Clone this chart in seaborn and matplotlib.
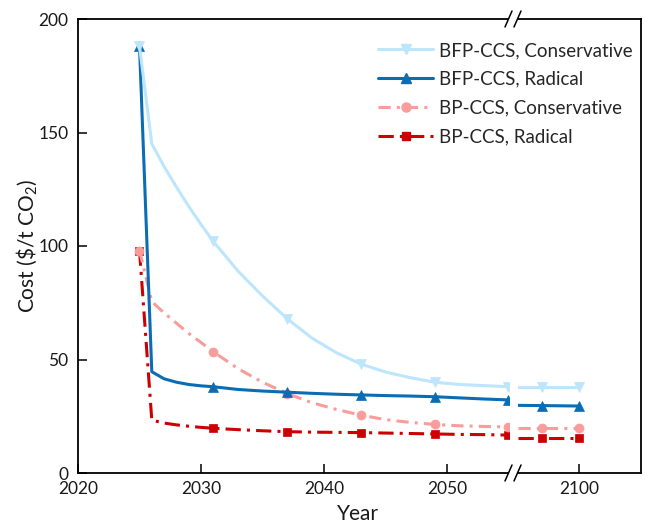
import numpy as np
import pandas as pd
import matplotlib
matplotlib.use("Agg")
import matplotlib.pyplot as plt
from matplotlib.lines import Line2D
import seaborn as sns

# ---------------- data ----------------
years = [2025, 2026, 2027, 2028, 2029, 2030, 2031, 2033, 2035, 2037, 2039,
         2041, 2043, 2045, 2047, 2049, 2051, 2053, 2055, 2095, 2097, 2100]
bfp_conservative = [188, 145, 135, 126, 117.5, 109.5, 102, 89, 78, 68, 59.5,
                    53, 48, 44.5, 42, 40, 39, 38.5, 38, 38, 38, 38]
bfp_radical = [188, 44.6, 41.5, 40, 39, 38.4, 38, 36.8, 36.1, 35.6, 35.1,
               34.7, 34.4, 34.1, 33.9, 33.6, 33.1, 32.6, 32.2, 29.8, 29.7, 29.5]
bp_conservative = [98, 75.5, 70.5, 66, 61.5, 57.5, 53.4, 46, 40, 35, 31,
                   28, 25.5, 23.5, 22.3, 21.4, 20.8, 20.5, 20.3, 19.7, 19.7, 19.7]
bp_radical = [98, 23.3, 22.0, 21.2, 20.6, 20.1, 19.7, 19.1, 18.6, 18.2, 18.0,
              17.9, 17.8, 17.6, 17.4, 17.2, 17.0, 16.9, 16.7, 15.6, 15.6, 15.6]
marker_years = [2025, 2031, 2037, 2043, 2049, 2055, 2097, 2100]
series_names = ["BFP-CCS, Conservative", "BFP-CCS, Radical",
                "BP-CCS, Conservative", "BP-CCS, Radical"]
left_ticks = [2020, 2030, 2040, 2050]
right_ticks = [2100]
y_ticks = [0, 50, 100, 150, 200]

# ---------------- styling ----------------
colors = ["#BDE5FC", "#0A6DB3", "#F99C9C", "#CC0000"]
markers = ["v", "^", "o", "s"]
msizes = [7, 7, 6.5, 5.5]
lstyles = ["-", "-", (0, (4, 2, 1, 2)), (0, (5, 2, 1, 2))]
zorders = [5, 4, 3, 2]
LW = 2.2

sns.set_theme(style="ticks")
plt.rcParams["font.family"] = ["Lato", "DejaVu Sans"]
plt.rcParams["mathtext.fontset"] = "custom"
plt.rcParams["mathtext.rm"] = "Lato"
plt.rcParams["mathtext.it"] = "Lato:italic"

df = pd.DataFrame({
    "year": years * 4,
    "cost": bfp_conservative + bfp_radical + bp_conservative + bp_radical,
    "series": sum([[n] * len(years) for n in series_names], []),
})

W, H = 649, 525
fig = plt.figure(figsize=(W / 100, H / 100), dpi=100)
fig.patch.set_facecolor("white")

x_left_px, x_break1, x_break2, x_right_px = 78, 508.5, 517.5, 641
y_top_px, y_bot_px = 19, 473
b = 1 - y_bot_px / H
h = (y_bot_px - y_top_px) / H
axL = fig.add_axes([x_left_px / W, b, (x_break1 - x_left_px) / W, h])
axR = fig.add_axes([x_break2 / W, b, (x_right_px - x_break2) / W, h])

for i, name in enumerate(series_names):
    sub = df[df["series"] == name]
    for ax, cond in ((axL, sub["year"] <= 2055), (axR, sub["year"] >= 2095)):
        part = sub[cond]
        mask = list(part["year"].isin(marker_years))
        sns.lineplot(data=part, x="year", y="cost", ax=ax, color=colors[i],
                     linewidth=LW, linestyle=lstyles[i], marker=markers[i],
                     markersize=msizes[i], markeredgecolor=colors[i],
                     markeredgewidth=0.5, markevery=mask, zorder=zorders[i],
                     legend=False)

axL.set_xlim(2020, 2055)
axR.set_xlim(2095, 2105)
for ax in (axL, axR):
    ax.set_ylim(0, 200)
    ax.set_xlabel("")
    ax.set_ylabel("")
    ax.set_facecolor("white")
    for s in ax.spines.values():
        s.set_linewidth(1.3)
        s.set_color("black")
    ax.tick_params(direction="in", length=6.5, width=1.1, color="black",
                   labelsize=12.5, labelcolor="#1a1a1a")
    ax.tick_params(axis="x", pad=6)
    ax.tick_params(axis="y", pad=7)

axL.set_xticks(left_ticks)
axL.set_yticks(y_ticks)
axL.spines["right"].set_visible(False)
axR.set_xticks(right_ticks)
axR.set_yticks([])
axR.spines["left"].set_visible(False)

# break marks
for xp in (x_break1, x_break2):
    for yp in (y_top_px, y_bot_px):
        fig.add_artist(Line2D([(xp - 3.5) / W, (xp + 3.5) / W],
                              [1 - (yp + 8) / H, 1 - (yp - 8) / H],
                              color="black", lw=1.1))

fig.text(27 / W, 1 - 246 / H, r"Cost (\$/t CO$_2$)", rotation=90,
         ha="center", va="center", fontsize=15, color="#1a1a1a")
fig.text(358 / W, 1 - 514 / H, "Year", ha="center", va="center",
         fontsize=15, color="#1a1a1a")

handles = [Line2D([0], [0], color=colors[i], lw=LW, linestyle=lstyles[i],
                  marker=markers[i], markersize=msizes[i],
                  markeredgecolor=colors[i]) for i in range(4)]
fig.legend(handles, series_names, loc="upper left",
           bbox_to_anchor=(378 / W, 1 - 42 / H), frameon=False,
           fontsize=13.5, handlelength=2.95, handletextpad=0.3,
           labelspacing=0.63, borderpad=0, borderaxespad=0)

fig.savefig("out.png", dpi=100)
